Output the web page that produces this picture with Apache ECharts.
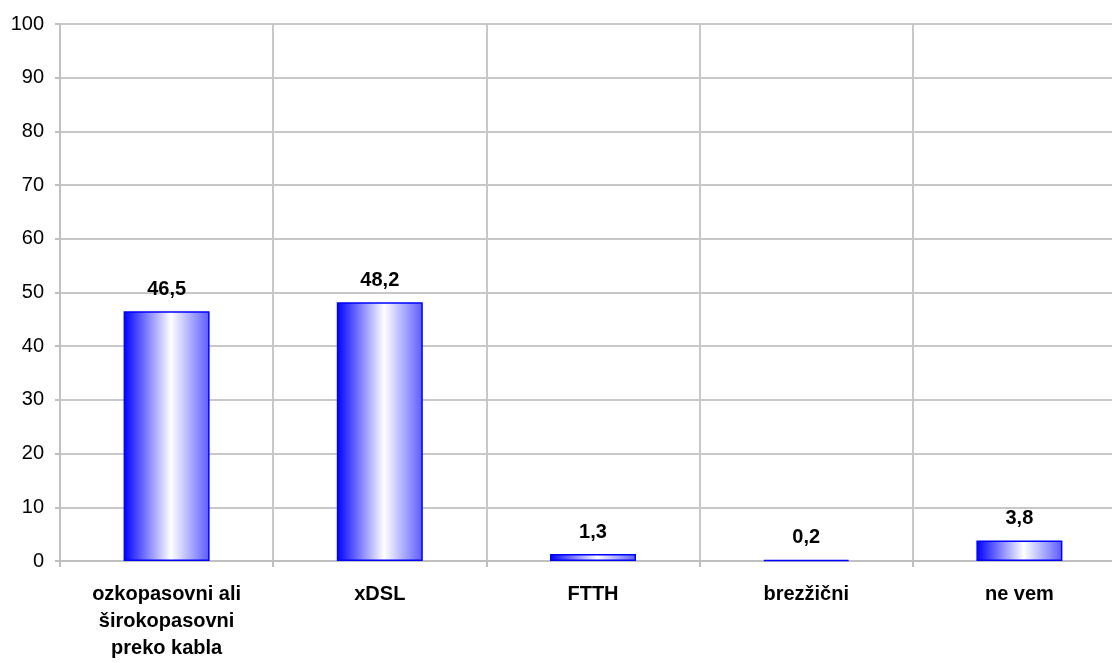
<!DOCTYPE html>
<html><head><meta charset="utf-8">
<script src="https://cdn.jsdelivr.net/npm/echarts@6/dist/echarts.min.js"></script>
<style>html,body{margin:0;padding:0;background:#fff}#c{width:1112px;height:663px}</style>
</head><body><div id="c"></div>
<script>
const categories = ['ozkopasovni ali\nširokopasovni\npreko kabla', 'xDSL', 'FTTH', 'brezžični', 'ne vem'];
const values = [46.5, 48.2, 1.3, 0.2, 3.8];
const yMin = 0, yMax = 100, yInterval = 10;

const chart = echarts.init(document.getElementById('c'));
const grad = new echarts.graphic.LinearGradient(0, 0, 1, 0, [
  {offset: 0, color: '#0000ff'},
  {offset: 0.55, color: '#ffffff'},
  {offset: 1, color: '#5a5aff'}
]);
chart.setOption({
  animation: false,
  grid: {left: 60, top: 24, right: -14, bottom: 102, containLabel: false, outerBoundsMode: 'none'},
  xAxis: {
    type: 'category', data: categories,
    axisLine: {lineStyle: {color: '#c0c0c0', width: 2}},
    axisTick: {show: true, length: 6, lineStyle: {color: '#c0c0c0', width: 2}},
    splitLine: {show: true, lineStyle: {color: '#c8c8c8', width: 2}},
    axisLabel: {color: '#000', fontFamily: 'Liberation Sans', fontSize: 20, fontWeight: 'bold', lineHeight: 27, margin: 20, interval: 0}
  },
  yAxis: {
    type: 'value', min: yMin, max: yMax, interval: yInterval,
    axisLine: {show: true, lineStyle: {color: '#c0c0c0', width: 2}},
    axisTick: {show: true, length: 5, lineStyle: {color: '#c0c0c0', width: 2}},
    splitLine: {show: true, lineStyle: {color: '#c8c8c8', width: 2}},
    axisLabel: {color: '#000', fontFamily: 'Liberation Sans', fontSize: 20, margin: 16}
  },
  series: [{
    type: 'bar', data: values, barWidth: 86,
    itemStyle: {color: grad, borderColor: '#0000ff', borderWidth: 1.5},
    label: {show: true, position: 'top', distance: 12, color: '#000', fontFamily: 'Liberation Sans', fontSize: 20, fontWeight: 'bold',
      formatter: p => String(p.value).replace('.', ',')}
  }]
});
</script></body></html>
